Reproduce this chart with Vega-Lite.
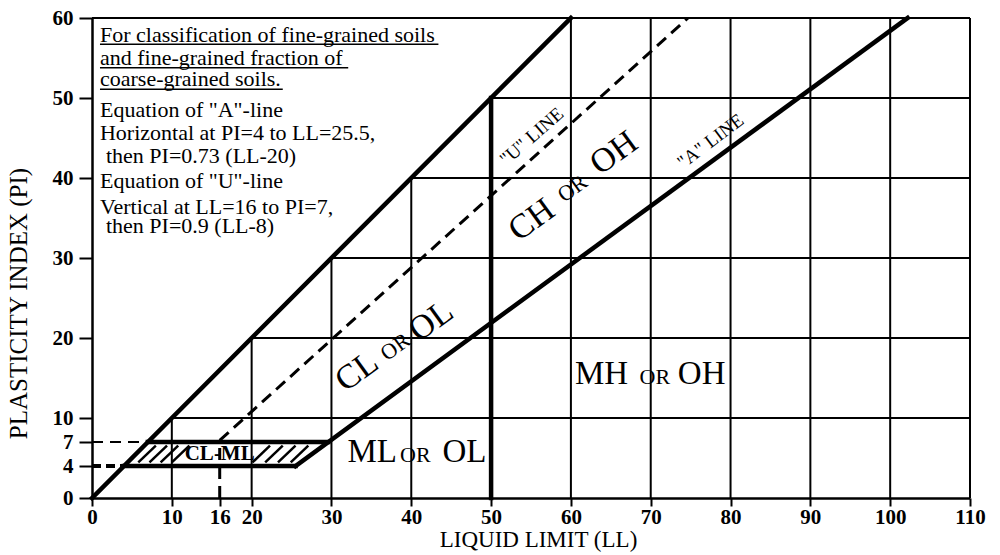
{
  "$schema": "https://vega.github.io/schema/vega-lite/v6.json",
  "width": 878,
  "height": 480,
  "autosize": "none",
  "padding": {"left": 92, "top": 18, "right": 30, "bottom": 57},
  "background": "white",
  "config": {
    "view": {"stroke": null},
    "font": "Liberation Serif",
    "axis": {
      "domainColor": "black", "domainWidth": 2.5, "tickColor": "black", "tickWidth": 2,
      "labelColor": "black", "titleColor": "black", "labelFont": "Liberation Serif",
      "titleFont": "Liberation Serif", "labelFontSize": 21, "labelFontWeight": "bold",
      "titleFontWeight": "normal", "grid": false
    }
  },
  "datasets": {
    "grid": [
      {"x": 10, "y": 10, "x2": 110, "y2": 10},
      {"x": 20, "y": 20, "x2": 110, "y2": 20},
      {"x": 30, "y": 30, "x2": 110, "y2": 30},
      {"x": 40, "y": 40, "x2": 110, "y2": 40},
      {"x": 50, "y": 50, "x2": 110, "y2": 50},
      {"x": 0, "y": 60, "x2": 110, "y2": 60},
      {"x": 10, "y": 0, "x2": 10, "y2": 10},
      {"x": 20, "y": 0, "x2": 20, "y2": 20},
      {"x": 30, "y": 0, "x2": 30, "y2": 30},
      {"x": 40, "y": 0, "x2": 40, "y2": 40},
      {"x": 60, "y": 0, "x2": 60, "y2": 60},
      {"x": 70, "y": 0, "x2": 70, "y2": 60},
      {"x": 80, "y": 0, "x2": 80, "y2": 60},
      {"x": 90, "y": 0, "x2": 90, "y2": 60},
      {"x": 100, "y": 0, "x2": 100, "y2": 60},
      {"x": 110, "y": 0, "x2": 110, "y2": 60}
    ],
    "boundary": [
      {"x": 0, "y": 0, "x2": 60, "y2": 60},
      {"x": 25.5, "y": 4, "x2": 102.19, "y2": 60},
      {"x": 4, "y": 4, "x2": 25.5, "y2": 4},
      {"x": 7, "y": 7, "x2": 29.59, "y2": 7},
      {"x": 50, "y": 0, "x2": 50, "y2": 50}
    ],
    "uline": [
      {"x": 16, "y": 7.2, "x2": 74.67, "y2": 60},
      {"x": 16, "y": 0, "x2": 16, "y2": 7.2}
    ],
    "guide7": [{"x": 0, "y": 7, "x2": 7, "y2": 7}],
    "guide4": [{"x": 0, "y": 4, "x2": 4, "y2": 4}],
    "hatch": [
      {"x": 5.8, "y": 4.45, "x2": 8.0, "y2": 6.55},
      {"x": 7.2, "y": 4.45, "x2": 9.4, "y2": 6.55},
      {"x": 8.6, "y": 4.45, "x2": 10.8, "y2": 6.55},
      {"x": 10.0, "y": 4.45, "x2": 12.2, "y2": 6.55},
      {"x": 20.1, "y": 4.45, "x2": 22.3, "y2": 6.55},
      {"x": 21.7, "y": 4.45, "x2": 23.9, "y2": 6.55},
      {"x": 23.3, "y": 4.45, "x2": 25.5, "y2": 6.55},
      {"x": 24.9, "y": 4.45, "x2": 27.1, "y2": 6.55}
    ],
    "underline": [
      {"x": 1.0, "y": 56.71, "x2": 43.4, "y2": 56.71},
      {"x": 1.0, "y": 53.79, "x2": 32.1, "y2": 53.79},
      {"x": 1.0, "y": 51.09, "x2": 23.9, "y2": 51.09}
    ],
    "notes": [
      {"x": 1.0, "y": 57.04, "text": "For classification of fine-grained soils"},
      {"x": 1.0, "y": 54.1, "text": "and fine-grained fraction of"},
      {"x": 1.0, "y": 51.5, "text": "coarse-grained soils."},
      {"x": 1.0, "y": 47.66, "text": "Equation of \"A\"-line"},
      {"x": 1.0, "y": 44.75, "text": "Horizontal at PI=4 to LL=25.5,"},
      {"x": 1.75, "y": 41.84, "text": "then PI=0.73 (LL-20)"},
      {"x": 1.0, "y": 38.75, "text": "Equation of \"U\"-line"},
      {"x": 1.0, "y": 35.46, "text": "Vertical at LL=16 to PI=7,"},
      {"x": 1.75, "y": 33.09, "text": "then PI=0.9 (LL-8)"}
    ],
    "bigH": [
      {"x": 32.0, "y": 4.5, "text": "ML"},
      {"x": 43.9, "y": 4.5, "text": "OL"},
      {"x": 60.5, "y": 14.25, "text": "MH"},
      {"x": 73.4, "y": 14.25, "text": "OH"}
    ],
    "smallH": [
      {"x": 38.6, "y": 4.5, "text": "OR"},
      {"x": 68.6, "y": 14.25, "text": "OR"}
    ],
    "bigR": [
      {"x": 33.2, "y": 15.8, "text": "CL"},
      {"x": 42.5, "y": 22.1, "text": "OL"},
      {"x": 55.1, "y": 34.75, "text": "CH"},
      {"x": 65.4, "y": 43.1, "text": "OH"}
    ],
    "smallR": [
      {"x": 38.0, "y": 18.9, "text": "OR"},
      {"x": 60.2, "y": 38.7, "text": "OR"}
    ],
    "ulabel": [{"x": 55.1, "y": 45.2, "text": "\"U\" LINE"}],
    "alabel": [{"x": 77.5, "y": 44.6, "text": "\"A\" LINE"}],
    "clml": [{"x": 16.0, "y": 5.5, "text": "CL-ML"}]
  },
  "encoding": {
    "x": {
      "field": "x", "type": "quantitative",
      "scale": {"domain": [0, 110], "nice": false, "zero": false},
      "axis": {
        "title": "LIQUID LIMIT (LL)", "values": [0, 10, 16, 20, 30, 40, 50, 60, 70, 80, 90, 100, 110],
        "tickSize": 8, "labelPadding": 0, "titlePadding": 1, "titleFontSize": 23, "titleX": 446,
        "labelFlush": false, "labelOverlap": false
      }
    },
    "y": {
      "field": "y", "type": "quantitative",
      "scale": {"domain": [0, 60], "nice": false, "zero": false},
      "axis": {
        "title": "PLASTICITY INDEX (PI)", "values": [0, 4, 7, 10, 20, 30, 40, 50, 60],
        "tickSize": 13, "labelPadding": 6, "titlePadding": 21, "titleFontSize": 25, "titleY": 285,
        "labelFlush": false, "labelOverlap": false
      }
    }
  },
  "layer": [
    {"data": {"name": "grid"}, "mark": {"type": "rule", "color": "black", "strokeWidth": 2},
     "encoding": {"x2": {"field": "x2"}, "y2": {"field": "y2"}}},
    {"data": {"name": "hatch"}, "mark": {"type": "rule", "color": "black", "strokeWidth": 2.5},
     "encoding": {"x2": {"field": "x2"}, "y2": {"field": "y2"}}},
    {"data": {"name": "uline"}, "mark": {"type": "rule", "color": "black", "strokeWidth": 3, "strokeDash": [12, 7]},
     "encoding": {"x2": {"field": "x2"}, "y2": {"field": "y2"}}},
    {"data": {"name": "guide7"}, "mark": {"type": "rule", "color": "black", "strokeWidth": 2, "strokeDash": [11, 7]},
     "encoding": {"x2": {"field": "x2"}, "y2": {"field": "y2"}}},
    {"data": {"name": "guide4"}, "mark": {"type": "rule", "color": "black", "strokeWidth": 4, "strokeDash": [9, 5]},
     "encoding": {"x2": {"field": "x2"}, "y2": {"field": "y2"}}},
    {"data": {"name": "boundary"}, "mark": {"type": "rule", "color": "black", "strokeWidth": 4.5, "strokeCap": "square"},
     "encoding": {"x2": {"field": "x2"}, "y2": {"field": "y2"}}},
    {"data": {"name": "underline"}, "mark": {"type": "rule", "color": "black", "strokeWidth": 1.5},
     "encoding": {"x2": {"field": "x2"}, "y2": {"field": "y2"}}},
    {"data": {"name": "notes"}, "mark": {"type": "text", "align": "left", "baseline": "alphabetic", "fontSize": 22, "font": "Liberation Serif", "color": "black"},
     "encoding": {"text": {"field": "text"}}},
    {"data": {"name": "bigH"}, "mark": {"type": "text", "align": "left", "baseline": "alphabetic", "fontSize": 33, "font": "Liberation Serif", "color": "black"},
     "encoding": {"text": {"field": "text"}}},
    {"data": {"name": "smallH"}, "mark": {"type": "text", "align": "left", "baseline": "alphabetic", "fontSize": 22, "font": "Liberation Serif", "color": "black"},
     "encoding": {"text": {"field": "text"}}},
    {"data": {"name": "bigR"}, "mark": {"type": "text", "align": "center", "baseline": "middle", "fontSize": 34, "angle": -36, "font": "Liberation Serif", "color": "black"},
     "encoding": {"text": {"field": "text"}}},
    {"data": {"name": "smallR"}, "mark": {"type": "text", "align": "center", "baseline": "middle", "fontSize": 22, "angle": -36, "font": "Liberation Serif", "color": "black"},
     "encoding": {"text": {"field": "text"}}},
    {"data": {"name": "ulabel"}, "mark": {"type": "text", "align": "center", "baseline": "middle", "fontSize": 19, "angle": -41, "font": "Liberation Serif", "color": "black"},
     "encoding": {"text": {"field": "text"}}},
    {"data": {"name": "alabel"}, "mark": {"type": "text", "align": "center", "baseline": "middle", "fontSize": 19, "angle": -37, "font": "Liberation Serif", "color": "black"},
     "encoding": {"text": {"field": "text"}}},
    {"data": {"name": "clml"}, "mark": {"type": "text", "align": "center", "baseline": "middle", "fontSize": 21, "fontWeight": "bold", "font": "Liberation Serif", "color": "black"},
     "encoding": {"text": {"field": "text"}}}
  ]
}
